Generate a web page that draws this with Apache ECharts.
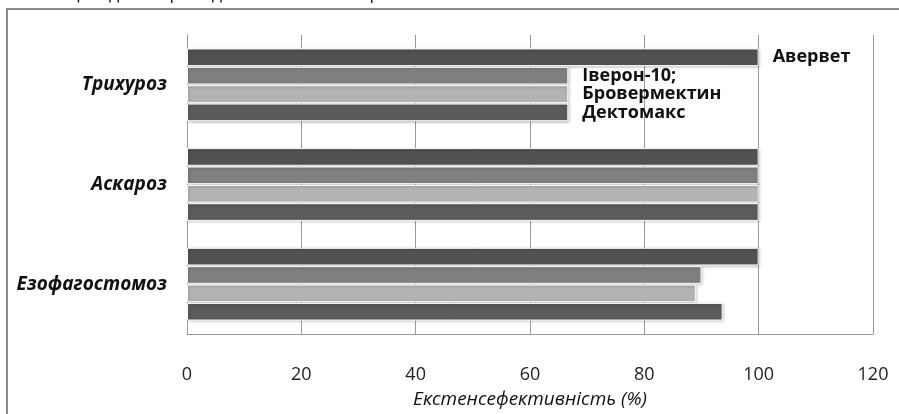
<!DOCTYPE html>
<html>
<head>
<meta charset="utf-8">
<script src="https://cdn.jsdelivr.net/npm/echarts@6/dist/echarts.min.js"></script>
<style>
  html, body { margin: 0; padding: 0; background: #fff; }
  #chart { width: 899px; height: 414px; }
</style>
</head>
<body>
<div id="chart"></div>
<script>
// категорії (зверху вниз)
var categories = ["Трихуроз", "Аскароз", "Езофагостомоз"];
var seriesNames = ["Авервет", "Іверон-10;", "Бровермектин", "Дектомакс"];
var avervet = [100, 100, 100];
var iveron = [66.7, 100, 90];
var brovermektyn = [66.7, 100, 89];
var dektomaks = [66.7, 100, 93.7];
var barColors = ["#515151", "#7f7f7f", "#b3b3b3", "#5b5b5b"];
var xTicks = { min: 0, max: 120, interval: 20 };

var font = "'Open Sans', 'Liberation Sans', sans-serif";
var allValues = [avervet, iveron, brovermektyn, dektomaks];

// назва серії показується лише біля першої категорії
function buildData(values) {
  return values.map(function (v, i) {
    if (i === 0) {
      return {
        value: v,
        label: {
          show: true,
          position: "right",
          distance: 14,
          formatter: "{a}",
          color: "#111",
          fontSize: 18,
          fontWeight: "bold",
          fontFamily: font
        }
      };
    }
    return v;
  });
}

var series = seriesNames.map(function (name, k) {
  return {
    name: name,
    type: "bar",
    data: buildData(allValues[k]),
    barGap: "4%",
    barCategoryGap: "27%",
    itemStyle: {
      color: barColors[k],
      borderColor: "#ffffff",
      borderWidth: 1,
      shadowColor: "rgba(0,0,0,0.25)",
      shadowBlur: 3,
      shadowOffsetX: 1,
      shadowOffsetY: 1
    }
  };
});

var myChart = echarts.init(document.getElementById("chart"));
var option = {
  animation: false,
  backgroundColor: "#ffffff",
  grid: {
    left: 187,
    right: 26,
    top: 35,
    bottom: 76
  },
  xAxis: {
    type: "value",
    min: xTicks.min,
    max: xTicks.max,
    interval: xTicks.interval,
    name: "Екстенсефективність (%)",
    nameLocation: "middle",
    nameGap: 56,
    nameTextStyle: {
      color: "#111",
      fontSize: 19,
      fontStyle: "italic",
      fontFamily: font
    },
    axisLine: { show: true, lineStyle: { color: "#9a9a9a", width: 1 } },
    axisTick: { show: false },
    axisLabel: {
      color: "#222",
      fontSize: 18,
      margin: 32,
      fontFamily: font
    },
    splitLine: { show: true, lineStyle: { color: "#9a9a9a", width: 1 } }
  },
  yAxis: {
    type: "category",
    data: categories,
    inverse: true,
    axisLine: { show: true, lineStyle: { color: "#9a9a9a", width: 1 } },
    axisTick: { show: false },
    axisLabel: {
      color: "#111",
      fontSize: 19,
      fontWeight: "bold",
      fontStyle: "italic",
      margin: 20,
      fontFamily: font
    }
  },
  graphic: [
    {
      type: "rect",
      shape: { x: 7, y: 9, width: 1000, height: 1000 },
      style: { fill: "none", stroke: "#8a8a8a", lineWidth: 2 },
      silent: true
    },
    {
      type: "text",
      right: 472,
      top: -15,
      style: {
        text: "тизації під час проведення масових обробок.",
        fill: "#111",
        font: "18px " + font
      },
      silent: true
    }
  ],
  series: series
};
myChart.setOption(option, true);
window.addEventListener("resize", function () {
  myChart.resize();
});
</script>
</body>
</html>
